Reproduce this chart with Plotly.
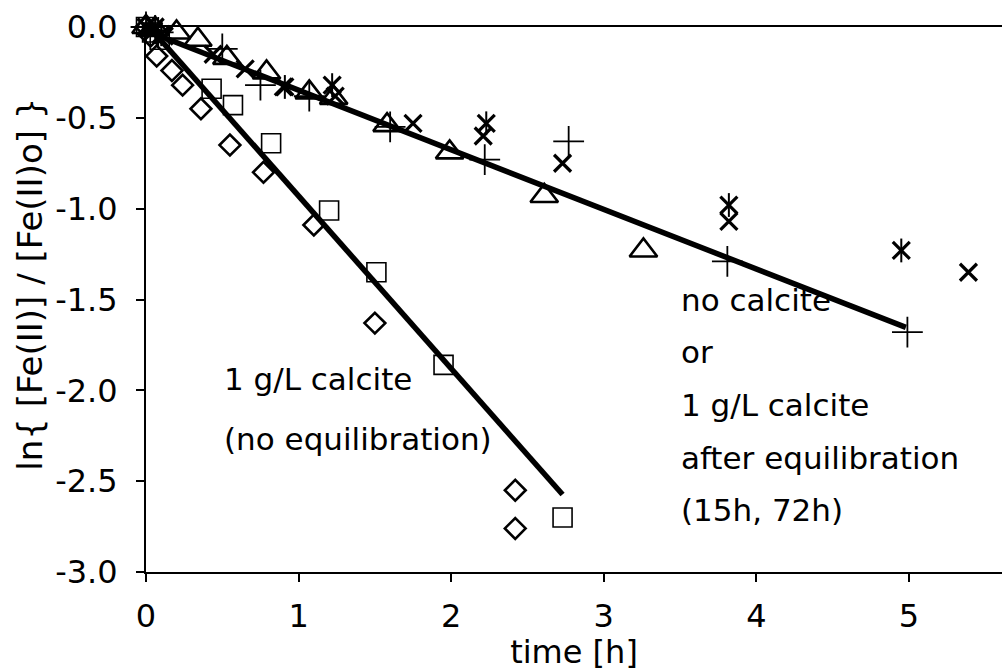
import plotly.graph_objects as go

# ---- data (time [h], ln(Fe/Fe0)) ----
diamond_t = [0.0, 0.03, 0.07, 0.17, 0.24, 0.36, 0.55, 0.77, 1.10, 1.50, 2.42, 2.42]
diamond_y = [0.0, -0.05, -0.16, -0.24, -0.32, -0.45, -0.65, -0.80, -1.09, -1.63, -2.55, -2.76]

square_t = [0.0, 0.02, 0.04, 0.09, 0.43, 0.57, 0.82, 1.20, 1.51, 1.95, 2.73]
square_y = [0.0, 0.01, -0.03, -0.07, -0.34, -0.43, -0.64, -1.01, -1.35, -1.86, -2.70]

triangle_t = [0.0, 0.03, 0.06, 0.20, 0.34, 0.53, 0.79, 1.07, 1.23, 1.58, 1.99, 2.61, 3.26]
triangle_y = [0.0, 0.01, -0.01, -0.03, -0.07, -0.17, -0.25, -0.36, -0.39, -0.54, -0.69, -0.93, -1.23]

plus_t = [0.0, 0.04, 0.08, 0.50, 0.75, 1.07, 1.60, 2.22, 2.77, 3.81, 4.99]
plus_y = [0.0, 0.02, -0.03, -0.12, -0.32, -0.38, -0.55, -0.73, -0.63, -1.29, -1.68]

cross_t = [0.0, 0.02, 0.05, 0.12, 0.44, 0.65, 0.90, 1.24, 1.75, 2.21, 2.73, 3.82, 5.39]
cross_y = [0.0, 0.02, -0.02, -0.05, -0.15, -0.23, -0.33, -0.38, -0.53, -0.60, -0.75, -1.07, -1.35]

star_t = [0.0, 0.06, 0.10, 0.91, 1.22, 2.23, 3.82, 4.95]
star_y = [0.02, 0.0, -0.04, -0.33, -0.32, -0.53, -0.98, -1.23]

# linear fits: y = slope * t + intercept over t range
fast_fit_t = [0.0, 2.73]
fast_slope, fast_icpt = -0.95, 0.02
slow_fit_t = [0.0, 4.98]
slow_slope, slow_icpt = -0.328, -0.02

y_ticks = [0.0, -0.5, -1.0, -1.5, -2.0, -2.5, -3.0]
y_ticktext = ["0.0", "-0.5", "-1.0", "-1.5", "-2.0", "-2.5", "-3.0"]
x_ticks = [0, 1, 2, 3, 4, 5]

FONT = "DejaVu Sans"

fig = go.Figure()

def line_trace(t, slope, icpt):
    fig.add_trace(go.Scatter(x=t, y=[slope * v + icpt for v in t], mode="lines",
                             line=dict(color="black", width=5.5), showlegend=False,
                             hoverinfo="skip"))

line_trace(fast_fit_t, fast_slope, fast_icpt)
line_trace(slow_fit_t, slow_slope, slow_icpt)

def pts(t, y, symbol, size, lw):
    fig.add_trace(go.Scatter(x=t, y=y, mode="markers", cliponaxis=False, showlegend=False,
                             marker=dict(symbol=symbol, size=size, color="black",
                                         line=dict(color="black", width=lw))))

pts(diamond_t, diamond_y, "diamond-open", 16, 2.6)
pts(square_t, square_y, "square-open", 19, 1.6)
pts(triangle_t, triangle_y, "triangle-up-open", 24, 2.6)
pts(plus_t, plus_y, "cross-thin-open", 22, 1.8)
pts(cross_t, cross_y, "x-thin-open", 17, 3.2)
pts(star_t, star_y, "x-thin-open", 17, 3.2)
pts(star_t, star_y, "line-ns-open", 17, 2)

ann_font = dict(family=FONT, size=31, color="black")
left_lines = ["1 g/L calcite", "(no equilibration)"]
left_y = [-1.94, -2.27]
right_lines = ["no calcite", "or", "1 g/L calcite", "after equilibration", "(15h, 72h)"]
right_y = [-1.50, -1.79, -2.08, -2.37, -2.66]
for txt, yy in zip(left_lines, left_y):
    fig.add_annotation(x=0.50, y=yy, text=txt, showarrow=False, xanchor="left",
                       yanchor="middle", font=ann_font)
for txt, yy in zip(right_lines, right_y):
    fig.add_annotation(x=3.49, y=yy, text=txt, showarrow=False, xanchor="left",
                       yanchor="middle", font=ann_font)

# y-axis title (placed as rotated text, offset slightly upward like the original)
fig.add_annotation(xref="paper", yref="paper", x=-0.1355, y=0.527,
                   text="ln{ [Fe(II)] / [Fe(II)o] }", textangle=-90, showarrow=False,
                   xanchor="center", yanchor="middle",
                   font=dict(family=FONT, size=34, color="black"))

fig.update_layout(
    width=1002, height=671,
    margin=dict(l=146, r=0, t=27, b=99),
    paper_bgcolor="white", plot_bgcolor="white",
    font=dict(family=FONT, size=32, color="black"),
    xaxis=dict(range=[0, 5.61], tickvals=x_ticks, showgrid=False, zeroline=False,
               showline=True, linecolor="black", linewidth=2, mirror=True,
               ticks="outside", ticklen=8, tickwidth=2, tickcolor="black",
               ticklabelstandoff=7, tickfont=dict(family=FONT, size=32),
               title=dict(text="time [h]", font=dict(family=FONT, size=32), standoff=4)),
    yaxis=dict(range=[-3, 0], tickvals=y_ticks, ticktext=y_ticktext, showgrid=False,
               zeroline=False, showline=True, linecolor="black", linewidth=2,
               ticks="outside", ticklen=8, tickwidth=2, tickcolor="black",
               ticklabelstandoff=12, tickfont=dict(family=FONT, size=32)),
)

fig.write_html("out.html")
